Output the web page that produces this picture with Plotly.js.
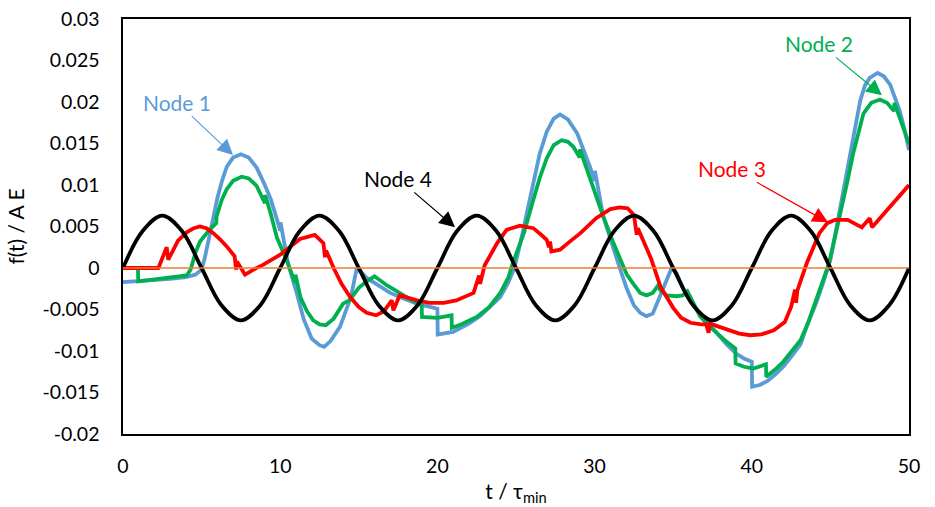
<!DOCTYPE html>
<html>
<head>
<meta charset="utf-8">
<script src="https://cdn.plot.ly/plotly-3.0.1.min.js"></script>
<style>html,body{margin:0;padding:0;background:#fff;}#chart{width:935px;height:507px;}</style>
</head>
<body>
<div id="chart"></div>
<script>
// ---- Node 1 (blue) ----
const node1T = [0,1,2,3,4,4.6,5.0,5.2,5.45,5.7,6.0,6.3,6.6,7.0,7.5,8.0,8.5,9.0,9.4,9.8,10.0,10.02,10.5,11.05,11.5,12.0,12.5,12.8,13.2,13.8,14.2,14.5,14.85,15.1,15.5,16.1,17.0,17.6,18.7,20.0,20.02,21.0,22.0,22.7,24.0,24.5,24.9,25.3,25.7,26.1,26.5,26.95,27.4,27.8,28.3,28.9,29.4,29.7,30.0,30.02,30.55,31.2,31.6,32.05,32.5,32.9,33.3,33.7,34.2,34.6,34.9,35.2,35.6,36.2,36.7,37.3,37.8,38.4,39.0,39.5,40.0,40.02,40.5,41.0,41.5,42.0,42.5,43.1,43.6,44.1,44.5,45.0,45.3,45.6,45.9,46.25,46.6,46.9,47.2,47.5,48.0,48.4,48.8,49.1,49.4,49.7,50.0];
const node1F = [-0.0017,-0.0016,-0.0015,-0.0013,-0.0011,-0.0008,-0.0002,0.0012,0.0034,0.0058,0.0084,0.0105,0.0122,0.0133,0.0137,0.0133,0.0121,0.0101,0.0083,0.0058,0.0045,0.0055,0.0005,-0.003,-0.0062,-0.0085,-0.0093,-0.0095,-0.0088,-0.0071,-0.005,-0.0035,-0.0002,-0.0004,-0.0012,-0.0019,-0.003,-0.0035,-0.0043,-0.0049,-0.008,-0.0077,-0.0067,-0.0058,-0.0035,-0.0018,0.0,0.0032,0.0068,0.0104,0.0137,0.0164,0.018,0.0185,0.0179,0.0162,0.0138,0.0122,0.0105,0.0117,0.0062,0.0022,0.0,-0.0025,-0.0045,-0.0054,-0.0058,-0.0055,-0.0032,-0.0012,0.0,-0.0006,-0.0023,-0.0042,-0.0056,-0.0068,-0.0079,-0.0092,-0.0103,-0.0109,-0.0113,-0.0143,-0.0141,-0.0136,-0.0128,-0.0119,-0.0107,-0.0092,-0.0065,-0.0042,-0.002,0.001,0.004,0.007,0.0104,0.0138,0.0175,0.0202,0.022,0.0229,0.0235,0.0231,0.0221,0.0207,0.019,0.0168,0.0142];

// ---- Node 2 (green) ----
const node2T = [0,0.95,0.97,2,3,4.05,4.3,4.6,4.9,5.5,5.93,5.95,6.3,6.6,7.0,7.55,8.0,8.5,9.03,9.05,9.4,9.8,10.4,10.95,10.97,11.3,11.7,12.1,12.5,12.9,13.4,14.0,14.4,15.0,15.5,16.0,16.8,17.6,18.3,19.0,19.02,20.0,20.9,20.92,21.5,22.5,23.3,24.0,24.5,24.8,25.1,25.5,26.1,26.5,26.95,27.4,27.9,28.3,28.65,29.05,29.07,29.4,29.7,30.1,30.55,31.2,31.6,32.05,32.5,32.9,33.3,33.7,34.0,34.2,34.6,35.2,35.6,35.9,36.3,36.7,37.3,37.8,38.4,38.95,38.97,39.5,40.1,40.9,40.92,41.5,42.0,42.5,43.1,43.6,44.1,44.5,44.9,45.3,45.7,46.1,46.45,46.8,47.1,47.6,48.15,48.6,49.05,49.07,49.5,50.0];
const node2F = [0,0,-0.0016,-0.0014,-0.0012,-0.0009,-0.0002,0.0018,0.0032,0.0046,0.0054,0.0062,0.0083,0.0095,0.0105,0.011,0.0108,0.0099,0.0078,0.0088,0.0065,0.0036,0.001,-0.0018,-0.0008,-0.0036,-0.0052,-0.0063,-0.0068,-0.0069,-0.0061,-0.0043,-0.0039,-0.0024,-0.0016,-0.001,-0.0021,-0.003,-0.0038,-0.0044,-0.0059,-0.006,-0.0057,-0.0072,-0.0068,-0.0059,-0.0047,-0.003,-0.0012,0.0006,0.0022,0.0042,0.0082,0.0108,0.0132,0.0148,0.0154,0.0152,0.0146,0.0133,0.0143,0.0125,0.0108,0.0085,0.0062,0.003,0.0012,-0.0008,-0.002,-0.003,-0.0033,-0.003,-0.0022,-0.0027,-0.0033,-0.0034,-0.0033,-0.0028,-0.0043,-0.0058,-0.007,-0.0079,-0.0089,-0.0097,-0.0115,-0.0119,-0.0121,-0.0116,-0.0131,-0.0122,-0.0113,-0.0101,-0.0087,-0.0065,-0.0039,-0.0015,0.0005,0.0038,0.007,0.0106,0.0138,0.0165,0.0186,0.0199,0.0203,0.0199,0.0189,0.0199,0.0176,0.015];

// ---- Node 3 (red) ----
const node3T = [0,2.25,2.78,2.88,3.5,4.05,4.5,4.9,5.3,5.75,6.2,6.6,7.1,7.2,7.25,7.76,8.3,8.93,10.0,11.26,12.2,12.5,12.75,12.85,12.92,13.4,13.9,14.45,15.0,15.5,16.1,16.6,17.1,17.2,17.6,18.7,19.5,20.4,21.2,22.3,22.65,22.72,23.0,23.8,24.4,25.25,26.1,26.6,26.95,27.1,27.17,27.25,27.8,28.5,29.1,30.1,31.0,31.6,32.1,32.5,32.6,32.68,32.75,33.6,34.2,35.0,35.5,36.1,36.8,37.1,37.25,37.35,37.8,38.4,39.2,39.9,40.6,41.4,42.1,42.5,42.75,42.82,42.9,43.5,44.3,44.8,45.3,46.1,47.0,47.5,47.65,50.0];
const node3F = [0,0,0.0025,0.001,0.0033,0.0043,0.0048,0.005,0.0048,0.0042,0.0034,0.0026,0.0014,-0.0002,0.0008,-0.0008,-0.0002,0.0004,0.0016,0.0035,0.004,0.0034,0.003,0.0013,0.0021,0.0,-0.0019,-0.0035,-0.0047,-0.0054,-0.0057,-0.0052,-0.0039,-0.0051,-0.0033,-0.0039,-0.0042,-0.0042,-0.0039,-0.003,-0.0009,-0.0019,0.0003,0.003,0.0046,0.0051,0.0048,0.004,0.0034,0.0025,0.0032,0.002,0.0022,0.0033,0.0042,0.006,0.0071,0.0073,0.0072,0.0064,0.0052,0.004,0.0048,0.0011,-0.0023,-0.0048,-0.006,-0.0066,-0.0068,-0.0068,-0.0078,-0.0067,-0.007,-0.0074,-0.0079,-0.0081,-0.008,-0.0075,-0.0065,-0.0047,-0.0026,-0.0042,-0.0027,0.0006,0.0042,0.0054,0.0058,0.0058,0.0049,0.006,0.0049,0.01];

// ---- Node 4 (black) ----
const node4T = [0,1.25,2.5,3.75,5,6.25,7.5,8.75,10,11.25,12.5,13.75,15,16.25,17.5,18.75,20,21.25,22.5,23.75,25,26.25,27.5,28.75,30,31.25,32.5,33.75,35,36.25,37.5,38.75,40,41.25,42.5,43.75,45,46.25,47.5,48.75,50];
const node4F = [0,0.00445,0.0063,0.00445,0,-0.00445,-0.0063,-0.00445,0,0.00445,0.0063,0.00445,0,-0.00445,-0.0063,-0.00445,0,0.00445,0.0063,0.00445,0,-0.00445,-0.0063,-0.00445,0,0.00445,0.0063,0.00445,0,-0.00445,-0.0063,-0.00445,0,0.00445,0.0063,0.00445,0,-0.00445,-0.0063,-0.00445,0];

// ---- zero line ----
const zeroT = [0,50];
const zeroF = [0,0];

// ---- ticks & labels ----
const xTickVals = [0,10,20,30,40,50];
const yTickVals = [-0.02,-0.015,-0.01,-0.005,0,0.005,0.01,0.015,0.02,0.025,0.03];
const yTickText = ['-0.02','-0.015','-0.01','-0.005','0','0.005','0.01','0.015','0.02','0.025','0.03'];
const nodeLabels = ['Node 1','Node 2','Node 3','Node 4'];

const FONT = 'Lato, "Open Sans", sans-serif';
const LW = 3.8;
const traces = [
  {x: node1T, y: node1F, mode:'lines', line:{color:'#5B9BD5', width:LW}, name:nodeLabels[0]},
  {x: node2T, y: node2F, mode:'lines', line:{color:'#00B050', width:LW}, name:nodeLabels[1]},
  {x: node3T, y: node3F, mode:'lines', line:{color:'#FF0000', width:LW}, name:nodeLabels[2]},
  {x: node4T, y: node4F, mode:'lines', line:{color:'#000000', width:LW, shape:'spline', smoothing:1}, name:nodeLabels[3]},
  {x: zeroT, y: zeroF, mode:'lines', line:{color:'#ED7D31', width:1.3}, name:'zero'}
];

function ann(text, color, tx, ty, ax, ay){
  return {x:tx, y:ty, xref:'x', yref:'y', text:text, showarrow:true, ax:ax, ay:ay,
    arrowhead:2, arrowsize:2.6, arrowwidth:1.2, arrowcolor:color,
    font:{family:FONT, size:21, color:color}, standoff:0};
}

const layout = {
  width:935, height:507,
  margin:{l:123, r:26, t:19, b:73},
  paper_bgcolor:'#fff', plot_bgcolor:'#fff',
  showlegend:false,
  font:{family:FONT, color:'#000'},
  xaxis:{range:[0,50], tickvals:xTickVals, ticks:'', showgrid:false, zeroline:false,
    showline:true, mirror:true, linecolor:'#000', linewidth:1.6,
    tickfont:{family:FONT, size:19.5, color:'#000'}, ticklabelstandoff:14,
    title:{text:'t / τ<sub>min</sub>', font:{family:FONT, size:21, color:'#000'}, standoff:8}},
  yaxis:{range:[-0.02,0.03], tickvals:yTickVals, ticktext:yTickText, ticks:'', showgrid:false, zeroline:false,
    showline:true, mirror:true, linecolor:'#000', linewidth:1.6,
    tickfont:{family:FONT, size:19.5, color:'#000'}, ticklabelstandoff:18,
    title:{text:'f(t) / A E', font:{family:FONT, size:21, color:'#000'}, standoff:12}},
  annotations:[
    ann(nodeLabels[0], '#5B9BD5', 7.0, 0.0136, -56, -53),
    ann(nodeLabels[1], '#00B050', 48.28, 0.0208, -63, -52),
    ann(nodeLabels[2], '#FF0000', 44.85, 0.0055, -96, -54),
    ann(nodeLabels[3], '#000000', 21.12, 0.0049, -57, -49)
  ]
};

Plotly.newPlot('chart', traces, layout, {displayModeBar:false, staticPlot:true});
</script>
</body>
</html>
